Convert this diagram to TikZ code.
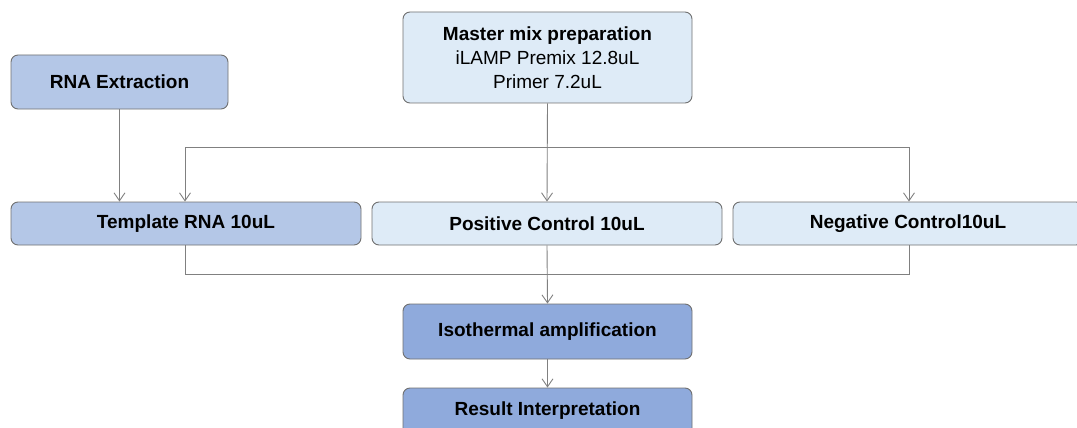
\documentclass[tikz,border=0pt]{standalone}
\usepackage{fontspec}
\setmainfont{Liberation Sans}
\usetikzlibrary{arrows.meta}
\definecolor{bmid}{HTML}{B4C7E7}
\definecolor{blight}{HTML}{DEEBF7}
\definecolor{bdark}{HTML}{8FAADC}
\definecolor{edgegray}{HTML}{707070}
\definecolor{linegray}{HTML}{808080}
\tikzset{
  box/.style={draw=edgegray, line width=0.9pt, rounded corners=7pt, inner sep=0pt,
    align=center, font=\fontsize{19}{24}\selectfont\bfseries},
  arr/.style={draw=linegray, line width=0.9pt, -{Straight Barb[length=8pt,width=11pt,line width=0.9pt]}},
  ln/.style={draw=linegray, line width=0.9pt},
}
\begin{document}
\begin{tikzpicture}[x=1pt,y=-1pt]
\useasboundingbox (0,0) rectangle (1077,428);
\clip (0,0) rectangle (1077,428);
\node[box, fill=bmid, minimum width=217pt, minimum height=54pt] (rna) at (119.5,82) {RNA Extraction};
\node[box, fill=blight, minimum width=289pt, minimum height=91pt] (mm) at (547.5,57.5)
  {Master mix preparation\\\mdseries iLAMP Premix 12.8uL\\\mdseries Primer 7.2uL};
\node[box, fill=bmid, minimum width=350pt, minimum height=43pt] (tmpl) at (186,223.5) {Template RNA 10uL};
\node[box, fill=blight, minimum width=350pt, minimum height=43pt] (pos) at (547,223.5) {Positive Control 10uL};
\node[box, fill=blight, minimum width=350pt, minimum height=43pt] (neg) at (908,223.5) {Negative Control10uL};
\node[box, fill=bdark, minimum width=289pt, minimum height=55pt] (iso) at (547.5,331.5) {Isothermal amplification};
\node[box, fill=bdark, minimum width=289pt, minimum height=55pt, text depth=0pt] (res) at (547.5,415.5) {};
\node[font=\fontsize{19}{24}\selectfont\bfseries, inner sep=0pt] (restext) at (547.5,411) {Result Interpretation};
\coordinate (hl) at (185,147);
\coordinate (hr) at (909,147);
\coordinate (bl) at (185,274);
\coordinate (br) at (909,274);
\draw[arr] (rna.south) -- (rna.south |- tmpl.north);
\draw[arr] (mm.south) -- (pos.north);
\draw[ln] (hl) -- (hr);
\draw[arr] (hl) -- (hl |- tmpl.north);
\draw[arr] (hr) -- (hr |- neg.north);
\draw[ln] (bl |- tmpl.south) -- (bl) -- (br) -- (br |- neg.south);
\draw[arr] (pos.south) -- (iso.north);
\draw[arr] (iso.south) -- (res.north);
\end{tikzpicture}
\end{document}
